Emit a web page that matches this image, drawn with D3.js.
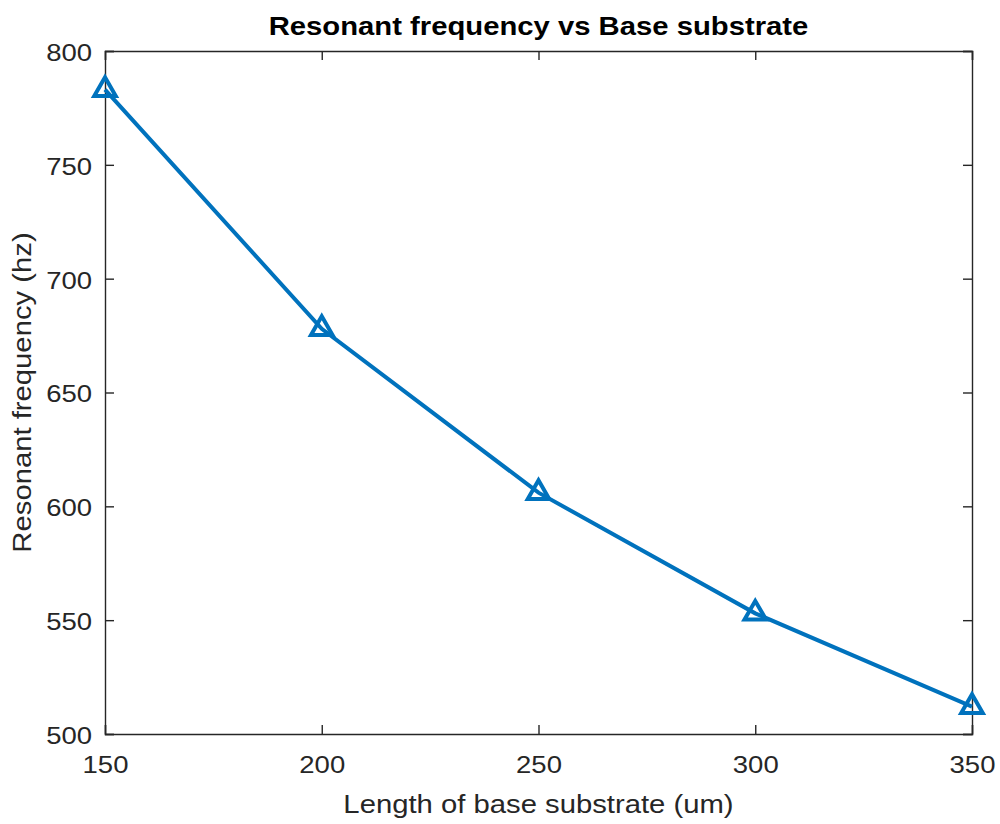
<!DOCTYPE html>
<html>
<head>
<meta charset="utf-8">
<script src="https://cdn.jsdelivr.net/npm/d3@7"></script>
<style>
  body { margin: 0; background: #fff; }
  text { font-family: "Liberation Sans", Arial, sans-serif; }
</style>
</head>
<body>
<div id="viz"></div>
<script>
// data
const lengths = [150, 200, 250, 300, 350];
const freqs = [783, 678, 606, 553, 512];
const xTicks = [150, 200, 250, 300, 350];
const yTicks = [500, 550, 600, 650, 700, 750, 800];

const width = 1000, height = 824;
const margin = { top: 51, right: 28, bottom: 90, left: 105 };
const plotW = width - margin.left - margin.right;
const plotH = height - margin.top - margin.bottom;
const axisColor = "#262626";
const lineColor = "#0072BD";
// the reference font runs a bit wider than Liberation Sans
const stretch = 1.17;

const svg = d3.select("#viz")
    .append("svg")
    .attr("width", width)
    .attr("height", height);

const g = svg.append("g")
    .attr("transform", `translate(${margin.left},${margin.top})`);

const xScale = d3.scaleLinear().domain([150, 350]).range([0, plotW]);
const yScale = d3.scaleLinear().domain([500, 800]).range([plotH, 0]);

function widen(sel) {
    sel.each(function () {
        const w = this.getComputedTextLength();
        d3.select(this)
            .attr("textLength", w * stretch)
            .attr("lengthAdjust", "spacingAndGlyphs");
    });
}

// ticks point inward, matlab style
const tickLen = 9;

const xAxis = g.append("g")
    .attr("transform", `translate(0,${plotH})`)
    .call(d3.axisBottom(xScale).tickValues(xTicks).tickSize(-tickLen));
const xAxisTop = g.append("g")
    .call(d3.axisTop(xScale).tickValues(xTicks).tickSize(-tickLen).tickFormat(""));
const yAxis = g.append("g")
    .call(d3.axisLeft(yScale).tickValues(yTicks).tickSize(-tickLen));
const yAxisRight = g.append("g")
    .attr("transform", `translate(${plotW},0)`)
    .call(d3.axisRight(yScale).tickValues(yTicks).tickSize(-tickLen).tickFormat(""));

[xAxis, xAxisTop, yAxis, yAxisRight].forEach(a => {
    a.select(".domain").attr("stroke", axisColor).attr("stroke-width", 1.4);
    a.selectAll(".tick line").attr("stroke", axisColor).attr("stroke-width", 1.4);
    a.selectAll(".tick text")
        .attr("fill", axisColor)
        .style("font-size", "23.5px")
        .style("font-family", "Liberation Sans, Arial, sans-serif");
});
xAxis.selectAll(".tick text").attr("y", 39).attr("dy", 0);
yAxis.selectAll(".tick text").attr("x", -13).attr("dy", "0.4em");
xAxis.selectAll(".tick text").call(widen);
yAxis.selectAll(".tick text").call(widen);

// the line
const line = d3.line()
    .x((d, i) => xScale(lengths[i]))
    .y(d => yScale(d));

g.append("path")
    .datum(freqs)
    .attr("fill", "none")
    .attr("stroke", lineColor)
    .attr("stroke-width", 4)
    .attr("d", line);

// triangle markers
const tri = d3.symbol().type(d3.symbolTriangle).size(200);
g.selectAll(".marker")
    .data(freqs)
    .enter()
    .append("path")
    .attr("class", "marker")
    .attr("transform", (d, i) => `translate(${xScale(lengths[i])},${yScale(d)})`)
    .attr("d", tri)
    .attr("fill", "none")
    .attr("stroke", lineColor)
    .attr("stroke-width", 4);

// title and labels
svg.append("text")
    .attr("x", margin.left + plotW / 2)
    .attr("y", 35)
    .attr("text-anchor", "middle")
    .style("font-size", "25px")
    .style("font-weight", "bold")
    .attr("fill", "#000")
    .text("Resonant frequency vs Base substrate")
    .call(widen);

svg.append("text")
    .attr("x", margin.left + plotW / 2)
    .attr("y", 813)
    .attr("text-anchor", "middle")
    .style("font-size", "25px")
    .attr("fill", axisColor)
    .text("Length of base substrate (um)")
    .call(widen);

svg.append("text")
    .attr("transform", `translate(31,${margin.top + plotH / 2}) rotate(-90)`)
    .attr("text-anchor", "middle")
    .style("font-size", "25px")
    .attr("fill", axisColor)
    .text("Resonant frequency (hz)")
    .call(widen);
</script>
</body>
</html>
